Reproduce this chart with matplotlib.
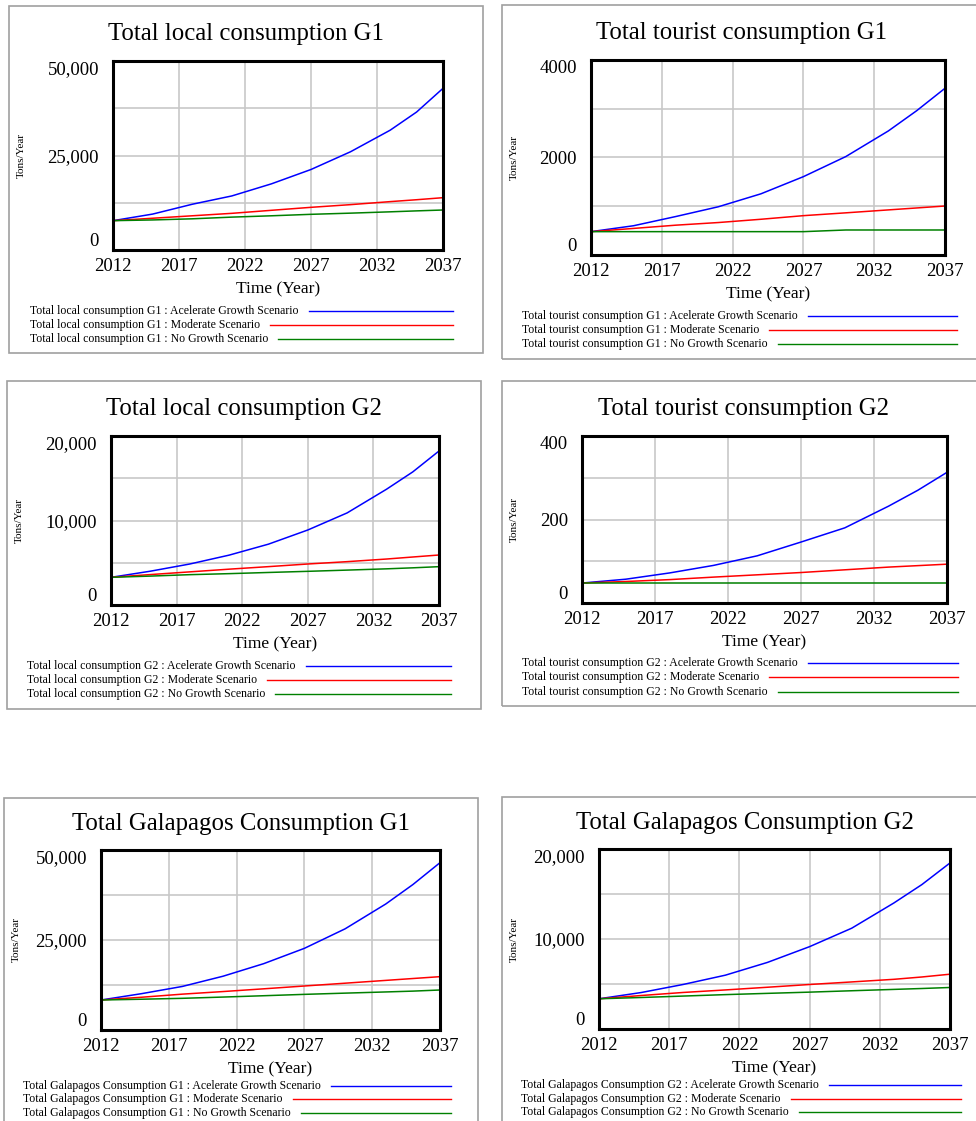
import matplotlib
matplotlib.use("Agg")
import matplotlib.pyplot as plt
from matplotlib.patches import Rectangle
from matplotlib.lines import Line2D

plt.rcParams['font.family'] = ['Liberation Serif', 'DejaVu Serif']

W, H = 976, 1121

# data
years = [2012, 2015, 2018, 2021, 2024, 2027, 2030, 2033, 2035, 2037]

local_g1_acc = [7760, 9500, 12100, 14300, 17500, 21300, 26000, 31700, 36500, 42770]
local_g1_mod = [7760, 8400, 9050, 9700, 10500, 11290, 12000, 12800, 13300, 13840]
local_g1_nog = [7760, 7950, 8250, 8700, 9050, 9440, 9750, 10100, 10350, 10580]

tour_g1_acc = [479, 600, 790, 990, 1255, 1607, 2020, 2545, 2960, 3420]
tour_g1_mod = [479, 545, 612, 666, 733, 807, 865, 925, 965, 1005]
tour_g1_nog = [479, 479, 479, 479, 479, 479, 513, 513, 513, 513]

local_g2_acc = [3274, 4000, 4850, 5900, 7200, 8876, 10900, 13700, 15750, 18225]
local_g2_mod = [3274, 3600, 3920, 4240, 4540, 4852, 5130, 5440, 5680, 5917]
local_g2_nog = [3274, 3420, 3590, 3710, 3850, 3985, 4130, 4280, 4400, 4536]

tour_g2_acc = [47.8, 57, 72, 90, 113, 146, 180, 232, 270, 313]
tour_g2_mod = [47.8, 51.5, 56, 62, 67.5, 73, 79.5, 86, 89.5, 93]
tour_g2_nog = [47.8, 47.8, 47.8, 47.8, 47.8, 47.8, 47.8, 47.8, 47.8, 47.8]

gal_g1_acc = [8333, 10100, 12100, 14940, 18430, 22685, 28100, 35000, 40400, 46480]
gal_g1_mod = [8333, 9100, 9960, 10680, 11440, 12222, 13000, 13780, 14300, 14815]
gal_g1_nog = [8333, 8550, 8800, 9150, 9520, 9900, 10240, 10570, 10800, 11111]

gal_g2_acc = [3358, 4050, 4950, 5980, 7400, 9151, 11200, 14000, 16050, 18450]
gal_g2_mod = [3358, 3720, 4060, 4340, 4640, 4945, 5230, 5520, 5780, 6089]
gal_g2_nog = [3358, 3500, 3660, 3820, 3960, 4096, 4250, 4400, 4500, 4613]

xticks = [2012, 2017, 2022, 2027, 2032, 2037]
scen = ['Acelerate Growth Scenario', 'Moderate Scenario', 'No Growth Scenario']
colors = ['#0000ff', '#ff0000', '#008000']

# panel: name, series, ymax, ylabels, box(l,t,r,b), axes(l,t,r,b), title (x,y), legend x, legend rows, line end
panels = [
    ('Total local consumption G1', (local_g1_acc, local_g1_mod, local_g1_nog), 50000,
     ['0', '25,000', '50,000'], (9, 6, 483, 353), (113, 61, 443, 250), (246, 34), 30, (311, 325, 339), 453),
    ('Total tourist consumption G1', (tour_g1_acc, tour_g1_mod, tour_g1_nog), 4000,
     ['0', '2000', '4000'], (502, 5, 980, 359), (591, 60, 945, 255), (742, 33), 522, (316, 330, 344), 957),
    ('Total local consumption G2', (local_g2_acc, local_g2_mod, local_g2_nog), 20000,
     ['0', '10,000', '20,000'], (7, 381, 481, 709), (111, 436, 439, 605), (244, 409), 27, (666, 680, 694), 451),
    ('Total tourist consumption G2', (tour_g2_acc, tour_g2_mod, tour_g2_nog), 400,
     ['0', '200', '400'], (502, 381, 980, 706), (582, 436, 947, 603), (744, 409), 522, (663, 677, 692), 958),
    ('Total Galapagos Consumption G1', (gal_g1_acc, gal_g1_mod, gal_g1_nog), 50000,
     ['0', '25,000', '50,000'], (4, 798, 478, 1130), (101, 850, 440, 1030), (241, 824), 23, (1086, 1099, 1113), 451),
    ('Total Galapagos Consumption G2', (gal_g2_acc, gal_g2_mod, gal_g2_nog), 20000,
     ['0', '10,000', '20,000'], (502, 797, 980, 1130), (599, 849, 950, 1029), (745, 823), 521, (1085, 1099, 1112), 961),
]

fig = plt.figure(figsize=(W / 100, H / 100), dpi=100)


def fx(x):
    return x / W


def fy(y):
    return 1 - y / H


legend_texts = []
for name, series, ymax, ylabs, box, ax_px, tpos, lx, rows, lend in panels:
    bl, bt, br, bb = box
    fig.patches.append(Rectangle((fx(bl), fy(bb)), fx(br - bl), (bb - bt) / H,
                                 transform=fig.transFigure, fill=False,
                                 edgecolor='#a0a0a0', lw=1.2, zorder=0))
    l, t, r, b = ax_px
    ax = fig.add_axes([fx(l), fy(b), fx(r - l), (b - t) / H])
    for s, c in zip(series, colors):
        ax.plot(years, s, color=c, lw=1.1)
    ax.set_xlim(2012, 2037)
    ax.set_ylim(0, ymax)
    ax.set_xticks(xticks)
    ax.set_xticklabels([str(v) for v in xticks], fontsize=13.5)
    ax.set_yticks([0, ymax / 2, ymax])
    ax.set_yticklabels(ylabs, fontsize=13.5)
    ax.set_yticks([ymax / 4, ymax * 3 / 4], minor=True)
    ax.tick_params(length=0, which='both')
    ax.tick_params(axis='y', pad=10)
    ax.tick_params(axis='x', pad=6)
    ylt = ax.get_yticklabels()
    ylt[0].set_va('bottom')
    ylt[-1].set_va('top')
    ax.grid(True, which='both', color='#c8c8c8', lw=1.2)
    ax.set_axisbelow(True)
    for sp in ax.spines.values():
        sp.set_linewidth(2.2)
        sp.set_color('black')

    fig.text(fx(tpos[0]), fy(tpos[1]), name, ha='center', va='center', fontsize=17.8)
    fig.text(fx((l + r) / 2), fy(b + 39), 'Time (Year)', ha='center', va='center', fontsize=12.5)
    fig.text(fx(bl + 12), fy((t + b) / 2), 'Tons/Year', rotation=90,
             ha='center', va='center', fontsize=8)

    for sc, c, ry in zip(scen, colors, rows):
        txt = fig.text(fx(lx), fy(ry), name + ' : ' + sc, ha='left', va='center',
                       fontsize=8.5)
        legend_texts.append((txt, c, ry, lend))

fig.canvas.draw()
rend = fig.canvas.get_renderer()
for txt, c, ry, lend in legend_texts:
    ext = txt.get_window_extent(renderer=rend)
    x0 = ext.x1 + 10
    fig.lines.append(Line2D([x0 / W, lend / W], [fy(ry), fy(ry)],
                            transform=fig.transFigure, color=c, lw=1.0))

fig.savefig('out.png', dpi=100)
